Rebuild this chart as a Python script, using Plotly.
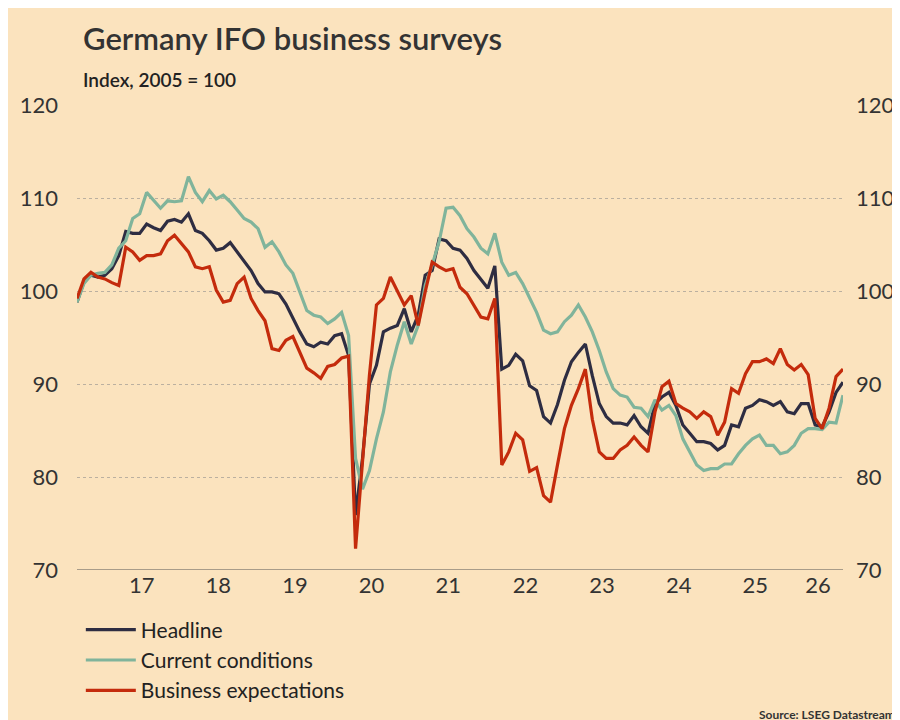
import plotly.graph_objects as go

headline = [98.8,101,101.7,101.5,101.7,102.4,103.8,106.4,106.2,106.2,107.2,106.8,106.5,107.5,107.7,107.4,108.3,106.5,106.2,105.4,
104.4,104.6,105.2,104.2,103.1,102.2,100.8,99.9,99.9,99.7,98.6,97,95.6,94.3,94,94.5,94.3,95.2,95.4,93.1,
75.9,82,90,92,95.6,96,96.3,98.1,95.6,97.4,101.7,102.2,105.6,105.4,104.6,104.4,103.5,102.2,101.3,100.3,
102.7,91.6,92,93.2,92.5,89.8,89.3,86.5,85.8,87.8,90.4,92.4,93.4,94.3,90.9,87.9,86.5,85.8,85.8,85.6,
86.6,85.4,84.7,87.9,88.6,89.1,87.7,85.6,84.7,83.8,83.8,83.6,82.9,83.4,85.6,85.4,87.4,87.7,88.3,88.1,
87.7,88.1,87,86.8,87.9,87.9,85.6,85.4,87,89.1,90.2]
current = [98.8,100.8,101.7,101.9,102,102.8,104.6,105.4,107.8,108.3,110.6,109.7,108.9,109.7,109.6,109.7,112.3,110.6,109.6,110.8,
109.9,110.3,109.6,108.7,107.8,107.4,106.7,104.7,105.3,104.2,102.8,101.9,99.9,97.9,97.4,97.2,96.5,97,97.7,95.2,
82,78.7,80.7,84.1,87,91.3,94.2,96.7,94.3,96.3,100.6,102.8,105.3,108.9,109,108.1,106.7,105.8,104.6,104,
106.2,103.1,101.7,102,100.8,99.2,97.7,95.8,95.4,95.6,96.7,97.4,98.5,97.2,95.6,93.6,91.3,89.5,88.8,88.6,
87.5,87.4,86.5,88.3,87.2,87.7,86.6,84.1,82.7,81.3,80.7,80.9,80.9,81.4,81.4,82.5,83.4,84.1,84.5,83.4,
83.4,82.5,82.7,83.4,84.7,85.2,85.2,85.1,85.9,85.8,88.8]
expectations = [99.2,101.3,102,101.5,101.3,100.9,100.6,104.7,104.2,103.3,103.8,103.8,104,105.4,106,105.1,104.2,102.6,102.4,102.6,
100.1,98.8,99,100.8,101.5,99.2,97.9,96.8,93.8,93.6,94.7,95.1,93.5,91.7,91.2,90.6,91.9,92.1,92.8,93,
72.3,82,91,98.5,99.2,101.5,99.9,98.5,99.5,96.3,99.9,103.1,102.6,102.2,102.4,100.4,99.7,98.5,97.2,97,
99.2,81.3,82.7,84.7,84,80.6,81,78,77.3,81.3,85.2,87.7,89.5,91.6,86.2,82.7,82,82,82.9,83.4,
84.3,83.4,82.7,87,89.7,90.3,87.9,87.4,87,86.3,87,86.5,84.5,85.9,89.5,89,91.1,92.4,92.4,92.7,
92.2,93.8,92.1,91.5,92.1,91,86.3,85.2,87.4,90.8,91.6]
year_labels = ["17","18","19","20","21","22","23","24","25","26"]
label_pos = [9.3,20.3,31.3,42.3,53.3,64.4,75.4,86.4,97.4,106.4]
yticks = [70,80,90,100,110,120]

months = list(range(len(headline)))
BG = "#FBE3BE"
fig = go.Figure()
fig.add_trace(go.Scatter(x=months, y=headline, name="Headline", mode="lines", line=dict(color="#2E2D42", width=3.2)))
fig.add_trace(go.Scatter(x=months, y=current, name="Current conditions", mode="lines", line=dict(color="#80B49B", width=3.2)))
fig.add_trace(go.Scatter(x=months, y=expectations, name="Business expectations", mode="lines", line=dict(color="#C42B0C", width=3.2)))
fig.add_trace(go.Scatter(x=[0], y=[100], yaxis="y2", showlegend=False, mode="lines", line=dict(width=0), hoverinfo="skip"))

fig.update_layout(
    width=900, height=720, paper_bgcolor=BG, plot_bgcolor=BG,
    margin=dict(l=65, r=65, t=97, b=158),
    font=dict(family="Lato, Noto Sans, sans-serif", color="#333333"),
    xaxis=dict(range=[0, len(headline)-1], tickmode="array", tickvals=label_pos, ticktext=year_labels,
               showgrid=False, showline=False, zeroline=False, ticks="", tickfont=dict(size=22, color="#333")),
    yaxis=dict(range=[70,120], tickvals=yticks, showgrid=True, gridcolor="#BBB0A0", griddash="dot", gridwidth=1,
               zeroline=False, ticks="", tickfont=dict(size=22, color="#333"), ticklabelstandoff=18),
    yaxis2=dict(range=[70,120], tickvals=yticks, overlaying="y", side="right", showgrid=False, zeroline=False,
                ticks="", tickfont=dict(size=22, color="#333"), ticklabelstandoff=12),
    legend=dict(x=0.005, y=-0.085, xanchor="left", yanchor="top", font=dict(size=21, color="#222"),
                bgcolor="rgba(0,0,0,0)", itemwidth=50, tracegroupgap=0),
    showlegend=True,
)
fig.add_shape(type="line", xref="paper", yref="y", x0=0, x1=1, y0=70, y1=70, line=dict(color="#555", width=1))
fig.add_annotation(text="Germany IFO business surveys", xref="paper", yref="paper", x=0.005, y=1.144,
                   xanchor="left", yanchor="middle", showarrow=False,
                   font=dict(size=31, color="#333", family="Lato", weight=600))
fig.add_annotation(text="Index, 2005 = 100", xref="paper", yref="paper", x=0.005, y=1.054,
                   xanchor="left", yanchor="middle", showarrow=False, font=dict(size=19, color="#222", weight=600))
fig.add_annotation(text="<b>Source: LSEG Datastream</b>", xref="paper", yref="paper", x=1.07, y=-0.31,
                   xanchor="right", yanchor="middle", showarrow=False, font=dict(size=12, color="#333"))
fig.write_html("out.html")
